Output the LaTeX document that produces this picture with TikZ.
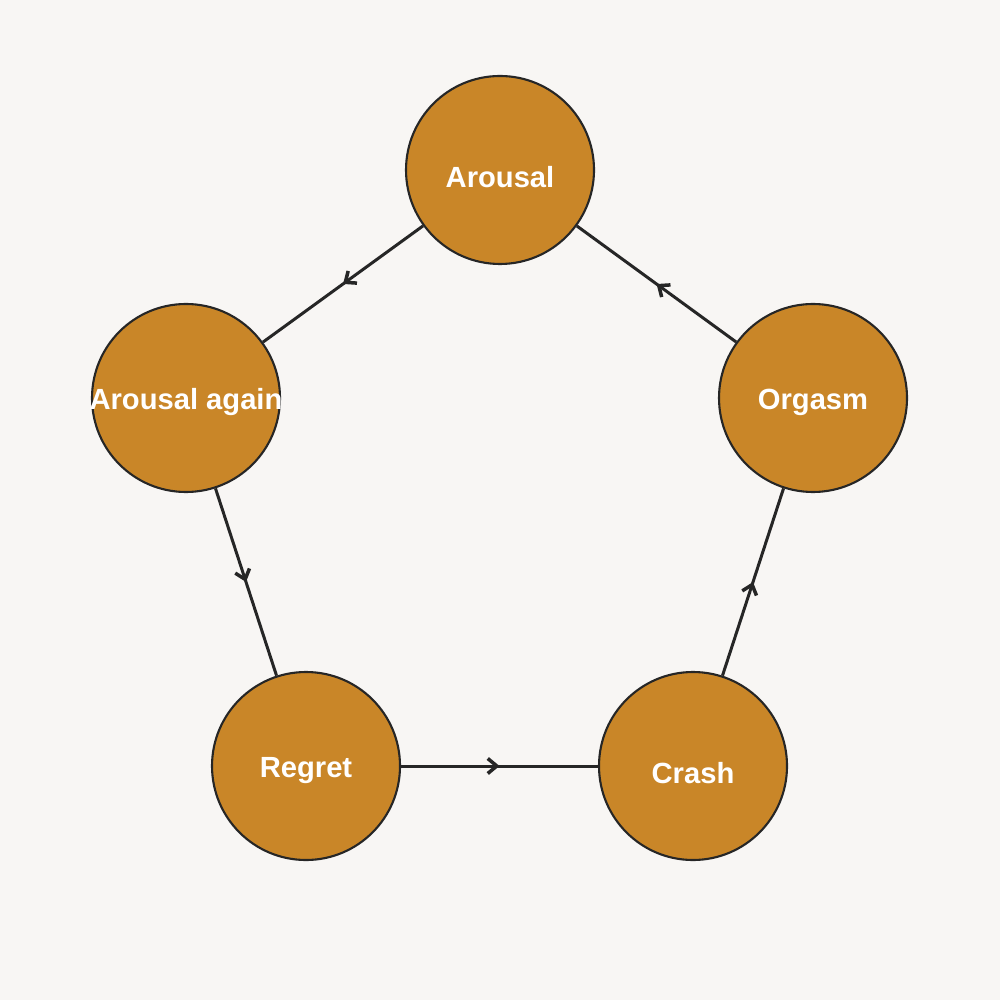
\documentclass[tikz,border=0pt]{standalone}
\usepackage{fontspec}
\setmainfont{Liberation Sans}
\usetikzlibrary{decorations.markings,arrows.meta}
\definecolor{bg}{HTML}{F8F6F4}
\definecolor{fillc}{HTML}{C98628}
\begin{document}
\begin{tikzpicture}[
  st/.style={circle,draw=black!85,line width=0.6pt,fill=fillc,minimum size=1.88cm,inner sep=0pt},
  tx/.style={text=white,font=\bfseries\fontsize{8.3}{9}\selectfont,inner sep=0pt},
  ed/.style={draw=black!85,line width=0.85pt,postaction={decorate},decoration={markings,mark=at position 0.5 with {\arrow{Straight Barb[length=0.9mm,width=1.5mm,line width=1pt]}}}}]
\fill[bg] (0,0) rectangle (10,-10);
\useasboundingbox (0,0) rectangle (10,-10);
\node[st] (a) at (5,-1.70) {};
\node[st] (ag) at (1.86,-3.98) {};
\node[st] (o) at (8.13,-3.98) {};
\node[st] (r) at (3.06,-7.66) {};
\node[st] (c) at (6.93,-7.66) {};
\node[tx] (ta) at ([yshift=-0.07cm]a.center) {Arousal};
\node[tx] (tag) at ([yshift=-0.04cm]ag.center) {Arousal again};
\node[tx] (to) at ([yshift=-0.04cm]o.center) {Orgasm};
\node[tx] (tr) at ([yshift=-0.05cm]r.center) {Regret};
\node[tx] (tc) at ([yshift=-0.07cm]c.center) {Crash};
\path[ed] (a) -- (ag);
\path[ed] (ag) -- (r);
\path[ed] (r) -- (c);
\path[ed] (c) -- (o);
\path[ed] (o) -- (a);
\end{tikzpicture}
\end{document}
